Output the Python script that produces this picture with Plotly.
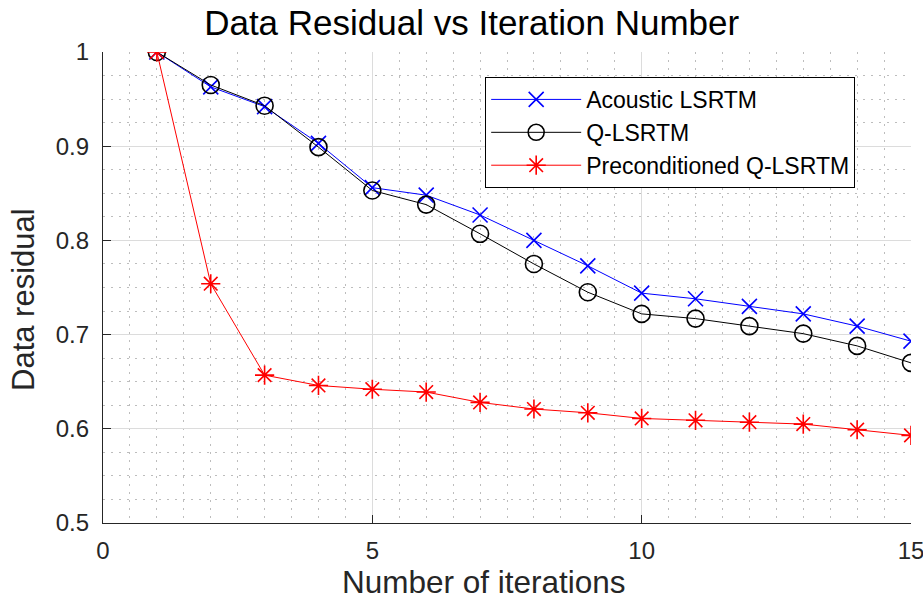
import plotly.graph_objects as go

iterations = list(range(1, 16))
acoustic_lsrtm = [1.0, 0.963, 0.942, 0.903, 0.856, 0.848, 0.827, 0.800, 0.773,
                  0.744, 0.738, 0.730, 0.722, 0.709, 0.693]
q_lsrtm = [1.0, 0.965, 0.943, 0.899, 0.853, 0.838, 0.807, 0.775, 0.745,
           0.722, 0.717, 0.709, 0.701, 0.688, 0.670]
precond_q_lsrtm = [1.0, 0.754, 0.657, 0.646, 0.642, 0.639, 0.628, 0.621, 0.617,
                   0.611, 0.609, 0.607, 0.605, 0.599, 0.593]

x_ticks = [0, 5, 10, 15]
y_ticks = [0.5, 0.6, 0.7, 0.8, 0.9, 1.0]
y_tick_labels = ["0.5", "0.6", "0.7", "0.8", "0.9", "1"]

FONT = "Liberation Sans, Arial, sans-serif"
TEXT = "#262626"

fig = go.Figure()
fig.add_trace(go.Scatter(
    x=iterations, y=acoustic_lsrtm, name="Acoustic LSRTM", mode="lines+markers",
    line=dict(color="#0000ff", width=1),
    marker=dict(symbol="x-thin-open", size=15, color="#0000ff",
                line=dict(color="#0000ff", width=1.6)),
))
fig.add_trace(go.Scatter(
    x=iterations, y=q_lsrtm, name="Q-LSRTM", mode="lines+markers",
    line=dict(color="#000000", width=1),
    marker=dict(symbol="circle-open", size=17, color="#000000",
                line=dict(color="#000000", width=1.6)),
))
fig.add_trace(go.Scatter(
    x=iterations, y=precond_q_lsrtm, name="Preconditioned Q-LSRTM", mode="lines+markers",
    line=dict(color="#ff0000", width=1),
    marker=dict(symbol="asterisk-open", size=16, color="#ff0000",
                line=dict(color="#ff0000", width=1.6)),
))

axis_common = dict(
    showgrid=True, gridcolor="#dcdcdc", gridwidth=1,
    zeroline=False, showline=True, linecolor=TEXT, linewidth=1.2,
    ticks="inside", ticklen=8, tickcolor=TEXT, tickwidth=1,
    tickfont=dict(family=FONT, size=24, color=TEXT),
    mirror=False, automargin=False, ticklabeloverflow="allow",
)

minor_grid = dict(showgrid=True, gridcolor="#bdbdbd", griddash="2px,6px",
                  gridwidth=1, ticks="")

fig.update_layout(
    width=923, height=602,
    margin=dict(l=103, r=12, t=52, b=79),
    paper_bgcolor="white", plot_bgcolor="white",
    title=dict(text="Data Residual vs Iteration Number", x=0.511, xanchor="center",
               y=0.963, yanchor="middle",
               font=dict(family=FONT, size=35, color="#000000")),
    xaxis=dict(
        range=[0, 15], tickvals=x_ticks, ticktext=[str(v) for v in x_ticks],
        ticklabelstandoff=6,
        minor=dict(dtick=0.5, tick0=0, **minor_grid),
        **axis_common,
    ),
    yaxis=dict(
        range=[0.5, 1.0], tickvals=y_ticks, ticktext=y_tick_labels,
        ticklabelstandoff=8,
        minor=dict(dtick=0.025, tick0=0.5, **minor_grid),
        **axis_common,
    ),
    legend=dict(
        x=0.473, y=0.947, xanchor="left", yanchor="top",
        bgcolor="white", bordercolor="#000000", borderwidth=1,
        font=dict(family=FONT, size=23, color="#000000"),
        itemwidth=90, tracegroupgap=0,
    ),
    showlegend=True,
)

# Axis titles placed as annotations relative to the plot area
fig.add_annotation(
    text="Number of iterations", xref="paper", yref="paper",
    x=0.4715, y=0, xanchor="center", yanchor="bottom", yshift=-78,
    borderpad=0, showarrow=False, font=dict(family=FONT, size=31.5, color=TEXT),
)
fig.add_annotation(
    text="Data residual", xref="paper", yref="paper",
    x=0, y=0.4735, xanchor="center", yanchor="middle", xshift=-79,
    textangle=-90, showarrow=False, font=dict(family=FONT, size=31, color=TEXT),
)

fig.write_html("out.html")
